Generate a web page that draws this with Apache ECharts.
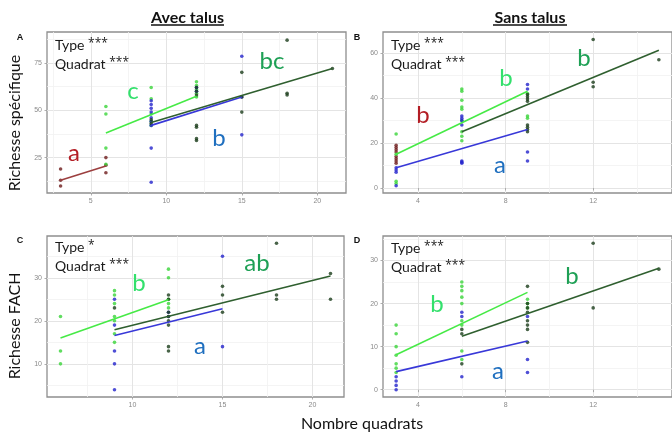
<!DOCTYPE html>
<html>
<head>
<meta charset="utf-8">
<script src="https://cdn.jsdelivr.net/npm/echarts@6/dist/echarts.min.js"></script>
<style>
  html, body { margin: 0; padding: 0; background: #ffffff; }
  #chart { width: 672px; height: 433px; }
</style>
</head>
<body>
<div id="chart"></div>
<script>
// Richesse vs nombre de quadrats, par type de milieu (avec / sans talus)

// ---- Panel A : richesse spécifique, avec talus ----
const rougeA = [[3,19],[3,13],[3,10],[6,25],[6,21],[6,17]];
const vertClairA = [[6,52],[6,48],[6,30],[6,21.5],[9,62],[9,56],[9,48],[9,44],[9,42],
  [12,65],[12,63],[12,61],[12,59],[12,57]];
const bleuA = [[9,55],[9,53],[9,51],[9,49],[9,46],[9,44],[9,42],[9,30],[9,12],
  [12,62],[12,60],[15,78.5],[15,57],[15,37]];
const vertFonceA = [[9,45],[9,43],[12,62],[12,60],[12,58],[12,42],[12,41],[12,35],[12,34],
  [15,70],[15,57],[15,49],[18,87],[18,59],[18,58],[21,72]];
const droiteRougeA = [[3,13],[6,20.5]];
const droiteVertClairA = [[6,38],[12,57.4]];
const droiteBleuA = [[9,42],[15,57]];
const droiteVertFonceA = [[9,43.5],[21,72]];

// ---- Panel B : richesse spécifique, sans talus ----
const rougeB = [[3,19],[3,18],[3,17],[3,16],[3,14],[3,13],[3,12],[3,11]];
const vertClairB = [[3,24],[3,15],[3,3],[3,2],[6,44],[6,43],[6,39],[6,36],[6,35],[6,30],
  [6,25],[6,23],[6,21],[9,42],[9,32],[9,31]];
const bleuB = [[3,9],[3,8],[3,7],[3,1],[6,32],[6,31],[6,30],[6,28],[6,12],[6,11.5],[6,11],
  [9,46],[9,44],[9,16],[9,12]];
const vertFonceB = [[9,41.5],[9,40.5],[9,39.5],[9,38.5],[9,28],[9,27],[9,26],[9,25],
  [12,66],[12,47],[12,45],[15,57]];
const droiteVertClairB = [[3,15],[9,43]];
const droiteBleuB = [[3,9],[9,26]];
const droiteVertFonceB = [[6,25],[15,61.2]];

// ---- Panel C : richesse FACH, avec talus ----
const vertClairC = [[6,21],[6,13],[6,10],[9,27],[9,26],[9,24],[9,21],[9,20],[9,17],[9,15],
  [12,32],[12,30],[12,25],[12,24],[12,23]];
const bleuC = [[9,25],[9,19],[9,13],[9,10],[9,4],[12,22],[12,21],[15,35],[15,14]];
const vertFonceC = [[9,23],[12,26],[12,25],[12,22],[12,21],[12,20],[12,19],[12,14],[12,13],
  [15,28],[15,26],[15,22],[18,38],[18,26],[18,25],[21,31],[21,25]];
const droiteVertClairC = [[6,16],[12,24.9]];
const droiteBleuC = [[9,16.6],[15,22.8]];
const droiteVertFonceC = [[9,17.9],[21,30.4]];

// ---- Panel D : richesse FACH, sans talus ----
const vertClairD = [[3,15],[3,13],[3,10],[3,8],[3,6],[3,5],[3,4],[6,25],[6,24],[6,23],
  [6,21.5],[6,20],[6,16],[6,15],[6,9],[6,7],[9,21],[9,20],[9,19]];
const bleuD = [[3,3],[3,2],[3,1],[3,0],[6,18],[6,17],[6,3],[9,17],[9,7],[9,4]];
const vertFonceD = [[6,14],[6,13],[6,6],[9,24],[9,20],[9,19],[9,18],[9,16],[9,15],[9,14],
  [9,11],[12,34],[12,19],[15,28]];
const droiteVertClairD = [[3,8.1],[9,22.6]];
const droiteBleuD = [[3,4.2],[9,11.3]];
const droiteVertFonceD = [[6,12.4],[15,28.2]];

// ---- Graduations ----
const ticksXA = [5, 10, 15, 20],  minorXA = [2.5, 7.5, 12.5, 17.5];
const ticksYA = [25, 50, 75],     minorYA = [12.5, 37.5, 62.5, 87.5];
const ticksXB = [4, 8, 12],       minorXB = [6, 10, 14];
const ticksYB = [0, 20, 40, 60],  minorYB = [10, 30, 50];
const ticksXC = [10, 15, 20],     minorXC = [7.5, 12.5, 17.5];
const ticksYC = [10, 20, 30],     minorYC = [5, 15, 25, 35];
const ticksXD = [4, 8, 12],       minorXD = [6, 10, 14];
const ticksYD = [0, 10, 20, 30],  minorYD = [5, 15, 25, 35];

// ---- Textes ----
const titresColonnes = ['Avec talus', 'Sans talus'];
const lettresPanneaux = ['A', 'B', 'C', 'D'];
const titresY = ['Richesse spécifique', 'Richesse FACH'];
const titreX = 'Nombre quadrats';
const effetsA = [['Type', '***'], ['Quadrat', '***']];
const effetsB = [['Type', '***'], ['Quadrat', '***']];
const effetsC = [['Type', '*'], ['Quadrat', '***']];
const effetsD = [['Type', '***'], ['Quadrat', '***']];

// Couleurs par type
const C = {
  rouge:     { pt: '#6e1c1c', ln: '#9c3f3f', txt: '#b31d24' },
  vertClair: { pt: '#3ad43a', ln: '#46ea46', txt: '#33e06c' },
  bleu:      { pt: '#2323cc', ln: '#3838d8', txt: '#1f6fbf' },
  vertFonce: { pt: '#1b3d1b', ln: '#2f5f2f', txt: '#1ea055' }
};

const panels = [
  { grid: { left: 47, top: 32, width: 299, height: 161 },
    x: [2.1, 21.9], y: [6.3, 91.3],
    tx: ticksXA, mx: minorXA, ty: ticksYA, my: minorYA,
    pts: [['rouge', rougeA], ['vertClair', vertClairA], ['bleu', bleuA], ['vertFonce', vertFonceA]],
    lines: [['rouge', droiteRougeA], ['vertClair', droiteVertClairA], ['bleu', droiteBleuA], ['vertFonce', droiteVertFonceA]] },
  { grid: { left: 383, top: 32, width: 300, height: 161 },
    x: [2.4, 15.6], y: [-2.2, 69.3],
    tx: ticksXB, mx: minorXB, ty: ticksYB, my: minorYB,
    pts: [['rouge', rougeB], ['vertClair', vertClairB], ['bleu', bleuB], ['vertFonce', vertFonceB]],
    lines: [['vertClair', droiteVertClairB], ['bleu', droiteBleuB], ['vertFonce', droiteVertFonceB]] },
  { grid: { left: 47, top: 236, width: 297, height: 161 },
    x: [5.25, 21.75], y: [2.3, 39.7],
    tx: ticksXC, mx: minorXC, ty: ticksYC, my: minorYC,
    pts: [['vertClair', vertClairC], ['bleu', bleuC], ['vertFonce', vertFonceC]],
    lines: [['vertClair', droiteVertClairC], ['bleu', droiteBleuC], ['vertFonce', droiteVertFonceC]] },
  { grid: { left: 383, top: 236, width: 300, height: 161 },
    x: [2.4, 15.6], y: [-1.7, 35.7],
    tx: ticksXD, mx: minorXD, ty: ticksYD, my: minorYD,
    pts: [['vertClair', vertClairD], ['bleu', bleuD], ['vertFonce', vertFonceD]],
    lines: [['vertClair', droiteVertClairD], ['bleu', droiteBleuD], ['vertFonce', droiteVertFonceD]] }
];

const tickFont = { fontSize: 7, color: '#8a8a8a', fontFamily: 'Liberation Sans' };
const grids = [], xAxes = [], yAxes = [], series = [];

function majorAxis(i, range, ticks) {
  return {
    type: 'value', gridIndex: i, min: range[0], max: range[1],
    axisLine: { show: false },
    axisTick: { show: true, customValues: ticks, length: 2.5, lineStyle: { color: '#9a9a9a', width: 0.8 } },
    axisLabel: Object.assign({ customValues: ticks, margin: 5 }, tickFont),
    splitLine: { show: true, lineStyle: { color: '#e4e4e4', width: 1 } }
  };
}
function minorAxis(i, range, ticks) {
  return {
    type: 'value', gridIndex: i, min: range[0], max: range[1],
    axisLine: { show: false },
    axisTick: { show: false, customValues: ticks },
    axisLabel: { show: false, customValues: ticks },
    splitLine: { show: true, lineStyle: { color: '#f1f1f1', width: 0.8 } }
  };
}

panels.forEach((p, i) => {
  grids.push(Object.assign({ show: true, borderColor: '#8e8e8e', borderWidth: 1.3, backgroundColor: 'transparent' }, p.grid));
  xAxes[i] = majorAxis(i, p.x, p.tx);
  yAxes[i] = majorAxis(i, p.y, p.ty);
  xAxes[4 + i] = minorAxis(i, p.x, p.mx);
  yAxes[4 + i] = minorAxis(i, p.y, p.my);
  p.pts.forEach(([k, data]) => series.push({
    type: 'scatter', xAxisIndex: i, yAxisIndex: i, data: data,
    symbolSize: 3.6, itemStyle: { color: C[k].pt }, silent: true, z: 3
  }));
  p.lines.forEach(([k, data]) => series.push({
    type: 'line', xAxisIndex: i, yAxisIndex: i, data: data,
    symbol: 'none', lineStyle: { color: C[k].ln, width: 1.6 }, silent: true, z: 4
  }));
});

// Annotations textuelles, dessinées au-dessus des points
const g = [];
function txt(x, y, text, style, extra) {
  g.push(Object.assign({ type: 'text', x: x, y: y, z: 100,
    style: Object.assign({ text: text, align: 'center', verticalAlign: 'middle' }, style) }, extra || {}));
}
const latoTitle = { fontFamily: 'Lato', fontWeight: 'bold', fontSize: 16, fill: '#111' };
txt(187.5, 18, titresColonnes[0], latoTitle);
txt(530, 18, titresColonnes[1], latoTitle);
g.push({ type: 'line', z: 100, shape: { x1: 151, y1: 25, x2: 224, y2: 25 }, style: { stroke: '#111', lineWidth: 1.3 } });
g.push({ type: 'line', z: 100, shape: { x1: 493, y1: 25, x2: 567, y2: 25 }, style: { stroke: '#111', lineWidth: 1.3 } });

const letterStyle = { fontFamily: 'Liberation Sans', fontWeight: 'bold', fontSize: 9, fill: '#111' };
txt(20, 38, lettresPanneaux[0], letterStyle);
txt(357, 38, lettresPanneaux[1], letterStyle);
txt(20, 241, lettresPanneaux[2], letterStyle);
txt(357, 241, lettresPanneaux[3], letterStyle);

const axisTitle = { fontFamily: 'Lato', fontSize: 16, fill: '#111' };
txt(0, 0, titresY[0], axisTitle, { x: 15, y: 123, rotation: Math.PI / 2 });
txt(0, 0, titresY[1], axisTitle, { x: 15, y: 326, rotation: Math.PI / 2 });
txt(362, 424, titreX, axisTitle);

// Effets testés (étoiles de significativité en exposant léger)
const effStyle = {
  fontFamily: 'Lato', fontSize: 14, fill: '#1a1a1a', align: 'left',
  rich: { s: { fontFamily: 'Open Sans', fontSize: 12, fill: '#1a1a1a', padding: [0, 0, 3, 0] } }
};
[[effetsA, 55, 45], [effetsB, 391, 45], [effetsC, 55, 247.5], [effetsD, 391, 248]].forEach(([e, x, y]) => {
  txt(x, y, e[0][0] + ' {s|' + e[0][1] + '}', effStyle);
  txt(x, y + 19, e[1][0] + ' {s|' + e[1][1] + '}', effStyle);
});

// Lettres de groupes (comparaisons post-hoc)
const grp = (c) => ({ fontFamily: 'Lato', fontSize: 24, fill: C[c].txt });
txt(74, 153, 'a', grp('rouge'));
txt(133, 91, 'c', grp('vertClair'));
txt(219, 138, 'b', grp('bleu'));
txt(272, 61, 'bc', grp('vertFonce'));
txt(423, 115, 'b', grp('rouge'));
txt(506, 78, 'b', grp('vertClair'));
txt(584, 58, 'b', grp('vertFonce'));
txt(500, 165, 'a', grp('bleu'));
txt(139, 283, 'b', grp('vertClair'));
txt(200, 346, 'a', grp('bleu'));
txt(257, 263, 'ab', grp('vertFonce'));
txt(437, 304, 'b', grp('vertClair'));
txt(572, 276, 'b', grp('vertFonce'));
txt(498, 371, 'a', grp('bleu'));

const chart = echarts.init(document.getElementById('chart'), null, { renderer: 'canvas' });
chart.setOption({
  animation: false,
  backgroundColor: '#ffffff',
  grid: grids,
  xAxis: xAxes,
  yAxis: yAxes,
  series: series,
  graphic: g
});
</script>
</body>
</html>
